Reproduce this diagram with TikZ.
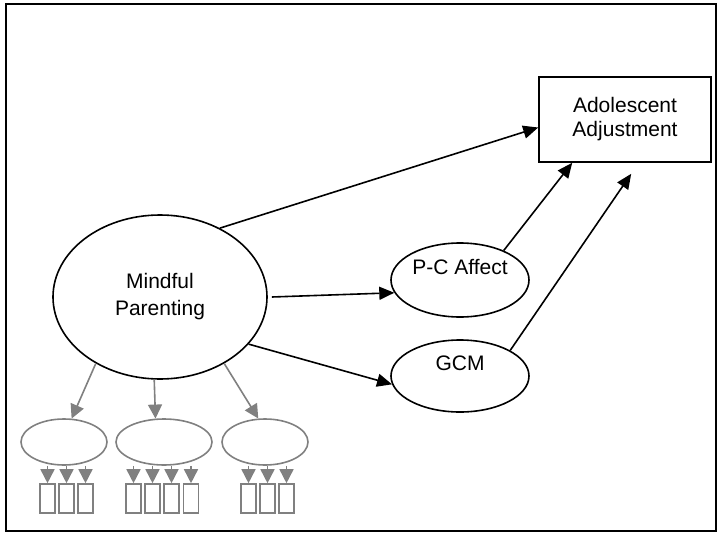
\documentclass[tikz,border=0pt]{standalone}
\usepackage{fontspec}
\setmainfont{Liberation Sans}
\usetikzlibrary{shapes,arrows.meta}

\begin{document}
\begin{tikzpicture}[x=1pt,y=-1pt,
		font=\fontsize{21}{24}\selectfont,
		latent/.style={ellipse, draw, line width=1.6pt, inner sep=0pt, align=center},
		raised/.style={text height=15pt, text depth=26pt},
		factor/.style={ellipse, draw=gray, line width=1.6pt, inner sep=0pt, minimum height=46pt},
		indic/.style={rectangle, draw=gray, line width=1.6pt, inner sep=0pt, minimum width=15pt, minimum height=29pt},
		blkarrow/.style={line width=1.6pt, -{Triangle[length=15pt,width=13pt]}},
		gryarrow/.style={draw=gray, line width=1.6pt, -{Triangle[length=14pt,width=14pt]}}]
				\useasboundingbox (0,0) rectangle (718,533);
				\draw[line width=2.4pt] (6,4) rectangle (716,531);
				
				\node[latent, minimum width=214pt, minimum height=164pt] (mp) at (160,297) {Mindful\\[3pt]Parenting};
				\node[latent, raised, minimum width=138pt, minimum height=74pt] (pca) at (460,280) {P-C Affect};
				\node[latent, raised, minimum width=138pt, minimum height=72pt] (gcm) at (460,376) {GCM};
				\node[draw, line width=1.6pt, align=center, minimum width=172pt, minimum height=85pt] (aa) at (625,119.5) {Adolescent\\Adjustment};
				
				\node[factor, minimum width=86pt] (f1) at (64,442) {};
				\node[factor, minimum width=96pt] (f2) at (164,442) {};
				\node[factor, minimum width=86pt] (f3) at (265,442) {};
				
				\draw[blkarrow] (mp.49) -- ([yshift=-8pt]aa.west);
				\draw[blkarrow] ([xshift=4pt]mp.east) -- (pca.191);
				\draw[blkarrow] (mp.-28) -- (gcm.187);
				\draw[blkarrow] (pca.34) -- ([xshift=34pt]aa.south west);
				\draw[blkarrow] (gcm.27) -- ([xshift=93pt,yshift=-11pt]aa.south west);
				
				\draw[gryarrow] (mp.226) -- (f1.72);
				\draw[gryarrow] (mp.266) -- (f2.110);
				\draw[gryarrow] (mp.314) -- (f3.106);
				
				\foreach \x [count=\i] in {47.5,66.5,85.5} {
					\node[indic] (a\i) at (\x,498.5) {};
					\draw[gryarrow] (f1.south -| a\i) -- (a\i.north);
				}
				\foreach \x [count=\i] in {133.5,152.5,171.5,191} {
					\node[indic] (b\i) at (\x,498.5) {};
					\draw[gryarrow] (f2.south -| b\i) -- (b\i.north);
				}
				\foreach \x [count=\i] in {248.5,267.5,286.5} {
					\node[indic] (c\i) at (\x,498.5) {};
					\draw[gryarrow] (f3.south -| c\i) -- (c\i.north);
				}
			\end{tikzpicture}
\end{document}
